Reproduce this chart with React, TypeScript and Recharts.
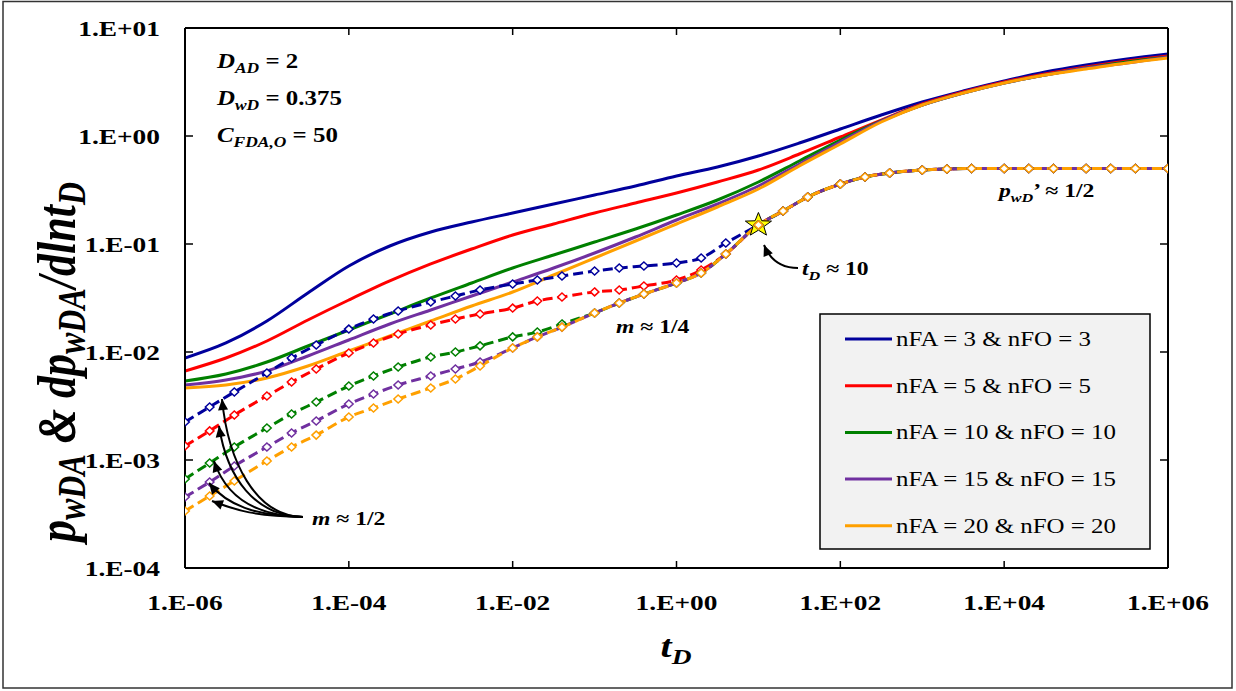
import React from 'react';
import { LineChart, Line, XAxis, YAxis, ReferenceDot, Legend } from 'recharts';

const SERIF = "'Liberation Serif', 'Times New Roman', Times, serif";
const SX = 1.245; // horizontal stretch of the original picture's text

const W = 1236;
const H = 691;
const PLOT_L = 185;
const PLOT_R = 1168;
const PLOT_T = 28;
const PLOT_B = 568;

// ---------- data ----------
const xTicks = [1e-6, 1e-4, 1e-2, 1e0, 1e2, 1e4, 1e6];
const yTicks = [1e-4, 1e-3, 1e-2, 1e-1, 1e0, 1e1];

const seriesNames = [
  'nFA = 3 & nFO = 3',
  'nFA = 5 & nFO = 5',
  'nFA = 10 & nFO = 10',
  'nFA = 15 & nFO = 15',
  'nFA = 20 & nFO = 20',
];
const seriesColors = ['#00009C', '#FF0000', '#008000', '#7030A0', '#FFA000'];

// pressure curves (solid), sampled every half decade
const tSolid = [
  1e-6, 3.16e-6, 1e-5, 3.16e-5, 1e-4, 3.16e-4, 1e-3, 3.16e-3, 1e-2, 3.16e-2, 1e-1, 3.16e-1, 1,
  3.16, 10, 31.6, 100, 316, 1e3, 3.16e3, 1e4, 3.16e4, 1e5, 3.16e5, 1e6,
];
const pwNf3 = [0.0088, 0.01212, 0.01937, 0.03518, 0.06256, 0.09583, 0.1292, 0.1599, 0.1936, 0.2346, 0.2842, 0.3444, 0.4263, 0.5164, 0.6528, 0.8614, 1.161, 1.564, 2.065, 2.61, 3.23, 3.913, 4.545, 5.164, 5.744];
const pwNf5 = [0.00667, 0.0088, 0.01264, 0.01978, 0.0303, 0.04545, 0.06532, 0.08991, 0.1212, 0.1532, 0.1936, 0.2397, 0.2966, 0.3751, 0.4843, 0.6813, 0.9789, 1.406, 1.978, 2.555, 3.162, 3.75, 4.354, 4.95, 5.505];
const pwNf10 = [0.00539, 0.00626, 0.00808, 0.01136, 0.01598, 0.02248, 0.03162, 0.04356, 0.05995, 0.0791, 0.1043, 0.1377, 0.1856, 0.2555, 0.3751, 0.5868, 0.9183, 1.377, 1.936, 2.501, 3.095, 3.671, 4.263, 4.843, 5.389];
const pwNf15 = [0.00495, 0.0055, 0.00667, 0.00918, 0.01292, 0.01817, 0.02448, 0.033, 0.04445, 0.05995, 0.08254, 0.1161, 0.1668, 0.2346, 0.3444, 0.5506, 0.8799, 1.377, 1.936, 2.501, 3.095, 3.671, 4.263, 4.741, 5.389];
const pwNf20 = [0.00464, 0.00495, 0.00575, 0.00742, 0.01022, 0.01406, 0.01937, 0.02666, 0.03594, 0.05164, 0.07421, 0.1066, 0.1532, 0.2201, 0.3231, 0.5275, 0.843, 1.348, 1.936, 2.501, 3.095, 3.671, 4.173, 4.741, 5.275];

// derivative curves (dashed with markers)
const tDeriv = [
  1e-6, 2e-6, 4e-6, 1e-5, 2e-5, 4e-5, 1e-4, 2e-4, 4e-4, 1e-3, 2e-3, 4e-3,
  1e-2, 2e-2, 4e-2, 1e-1, 2e-1, 4e-1, 1, 2, 4,
  10, 20, 40, 100, 200, 400, 1e3, 2e3, 4e3, 1e4, 2e4, 4e4, 1e5, 2e5, 4e5, 1e6,
];
// common late-time part (t = 10 ... 1e6), all cases coincide
const derivLate = [0.15, 0.202, 0.272, 0.359, 0.417, 0.454, 0.485, 0.495, 0.5, 0.5, 0.5, 0.5, 0.5, 0.5, 0.5, 0.5];
const dpNf3Early = [0.00225, 0.0031, 0.00426, 0.0064, 0.0088, 0.0116, 0.0163, 0.0202, 0.024, 0.029, 0.033, 0.0375, 0.0426, 0.0464, 0.0505, 0.0562, 0.06, 0.0626, 0.0667, 0.0742, 0.102];
const dpNf5Early = [0.00135, 0.00186, 0.00261, 0.00392, 0.00527, 0.00696, 0.0098, 0.0121, 0.0147, 0.0178, 0.0202, 0.0225, 0.0255, 0.0297, 0.0323, 0.036, 0.0375, 0.0409, 0.0464, 0.0574, 0.0808];
const dpNf10Early = [0.000667, 0.000938, 0.00132, 0.00198, 0.00267, 0.00344, 0.00484, 0.006, 0.00726, 0.009, 0.01, 0.0114, 0.0138, 0.0153, 0.0182, 0.023, 0.0284, 0.0344, 0.0435, 0.0539, 0.0808];
const dpNf15Early = [0.000454, 0.000625, 0.00088, 0.00132, 0.00178, 0.0023, 0.0033, 0.00408, 0.00495, 0.006, 0.00696, 0.00807, 0.0109, 0.0138, 0.017, 0.023, 0.0284, 0.0344, 0.0435, 0.0539, 0.0808];
const dpNf20Early = [0.000337, 0.000464, 0.00064, 0.00098, 0.00132, 0.0017, 0.0025, 0.00303, 0.00367, 0.00464, 0.00562, 0.00742, 0.0109, 0.0138, 0.017, 0.023, 0.0284, 0.0344, 0.0435, 0.0539, 0.0808];

const solidSeries = [pwNf3, pwNf5, pwNf10, pwNf15, pwNf20];
const derivSeries = [dpNf3Early, dpNf5Early, dpNf10Early, dpNf15Early, dpNf20Early].map((e) => [...e, ...derivLate]);

const solidData = tSolid.map((t, i) => {
  const row: Record<string, number> = { t };
  solidSeries.forEach((s, k) => (row[`s${k}`] = s[i]));
  return row;
});
const derivData = tDeriv.map((t, i) => {
  const row: Record<string, number> = { t };
  derivSeries.forEach((s, k) => (row[`d${k}`] = s[i]));
  return row;
});

// star marker: t_D ~ 10
const starPoint = { t: 10, v: 0.15 };

// ---------- helpers ----------
const fmtExp = (v: number) => {
  const e = Math.round(Math.log10(v));
  const s = e < 0 ? '-' : '+';
  return `1.E${s}${String(Math.abs(e)).padStart(2, '0')}`;
};

const BottomTick = (p: any) => (
  <g>
    <line x1={p.x} y1={PLOT_B} x2={p.x} y2={PLOT_B - 7} stroke="#000" strokeWidth={1.5} />
    <text
      transform={`translate(${p.x},${PLOT_B + 42}) scale(${SX},1)`}
      textAnchor="middle"
      fontFamily={SERIF}
      fontWeight="bold"
      fontSize={22}
      fill="#000"
    >
      {fmtExp(p.payload.value)}
    </text>
  </g>
);
const TopTick = (p: any) => (
  <line x1={p.x} y1={PLOT_T} x2={p.x} y2={PLOT_T + 7} stroke="#000" strokeWidth={1.5} />
);
const LeftTick = (p: any) => (
  <g>
    <line x1={PLOT_L} y1={p.y} x2={PLOT_L + 8} y2={p.y} stroke="#000" strokeWidth={1.5} />
    <text
      transform={`translate(${PLOT_L - 25},${p.y + 8}) scale(${SX},1)`}
      textAnchor="end"
      fontFamily={SERIF}
      fontWeight="bold"
      fontSize={22}
      fill="#000"
    >
      {fmtExp(p.payload.value)}
    </text>
  </g>
);
const RightTick = (p: any) => (
  <line x1={PLOT_R} y1={p.y} x2={PLOT_R - 8} y2={p.y} stroke="#000" strokeWidth={1.5} />
);

const diamondDot = (color: string) => (props: any) => {
  const { cx, cy, index } = props;
  if (cx == null || cy == null) return <g key={`e${index}`} />;
  const rx = 4.3;
  const ry = 4;
  return (
    <path
      key={`m${index}`}
      d={`M${cx},${cy - ry}L${cx + rx},${cy}L${cx},${cy + ry}L${cx - rx},${cy}Z`}
      fill="#fff"
      stroke={color}
      strokeWidth={1.5}
    />
  );
};

const StarShape = (props: any) => {
  const { cx, cy } = props;
  const R = 12.5;
  const r = 5.2;
  const pts: string[] = [];
  for (let i = 0; i < 10; i++) {
    const a = -Math.PI / 2 + (i * Math.PI) / 5;
    const rad = i % 2 === 0 ? R : r;
    pts.push(`${cx + rad * Math.cos(a) * 1.1},${cy + rad * Math.sin(a)}`);
  }
  return <polygon points={pts.join(' ')} fill="#FFFF00" stroke="#000" strokeWidth={1} />;
};

const LegendBox = () => (
  <svg width={332} height={237} style={{ display: 'block' }}>
    <rect x={1} y={1} width={330} height={235} fill="#F2F2F2" stroke="#000" strokeWidth={1.5} />
    {seriesNames.map((n, i) => {
      const cy = 26 + i * 46.7;
      return (
        <g key={n}>
          <line x1={26} y1={cy} x2={73} y2={cy} stroke={seriesColors[i]} strokeWidth={3} />
          <text
            transform={`translate(77,${cy + 7}) scale(${SX},1)`}
            fontFamily={SERIF}
            fontSize={20}
            fill="#000"
          >
            {n}
          </text>
        </g>
      );
    })}
  </svg>
);

// curved arrow with filled head
const Arrow = ({ d, tip, from }: { d: string; tip: [number, number]; from: [number, number] }) => {
  const dx = tip[0] - from[0];
  const dy = tip[1] - from[1];
  const len = Math.hypot(dx, dy);
  const ux = dx / len;
  const uy = dy / len;
  const L = 11;
  const hw = 5;
  const bx = tip[0] - ux * L;
  const by = tip[1] - uy * L;
  const head = `${tip[0]},${tip[1]} ${bx - uy * hw},${by + ux * hw} ${bx + uy * hw},${by - ux * hw}`;
  return (
    <g>
      <path d={d} fill="none" stroke="#000" strokeWidth={2} />
      <polygon points={head} fill="#000" />
    </g>
  );
};

const mTail: [number, number] = [303, 517];
const mTips: [number, number][] = [
  [222, 399],
  [219, 426],
  [214, 461],
  [209, 483],
  [212, 501],
];
const mCtrl: [number, number][] = [
  [6, 62],
  [8, 52],
  [12, 36],
  [18, 22],
  [26, 10],
];

const Bold = (props: any) => (
  <text
    transform={`translate(${props.x},${props.y}) scale(${SX},1)`}
    fontFamily={SERIF}
    fontWeight="bold"
    fontSize={props.size || 20}
    fill="#000"
  >
    {props.children}
  </text>
);

const Overlay = () => (
  <svg width={W} height={H} style={{ position: 'absolute', left: 0, top: 0, pointerEvents: 'none' }}>
    <rect x={3} y={1.5} width={1229} height={686.5} fill="none" stroke="#333" strokeWidth={1.5} />

    {/* parameters */}
    <Bold x={217} y={68}>
      <tspan fontStyle="italic">D</tspan>
      <tspan fontStyle="italic" fontSize={14} dy={5}>AD</tspan>
      <tspan dy={-5}> = 2</tspan>
    </Bold>
    <Bold x={217} y={105}>
      <tspan fontStyle="italic">D</tspan>
      <tspan fontStyle="italic" fontSize={14} dy={5}>wD</tspan>
      <tspan dy={-5}> = 0.375</tspan>
    </Bold>
    <Bold x={217} y={142}>
      <tspan fontStyle="italic">C</tspan>
      <tspan fontStyle="italic" fontSize={14} dy={5}>FDA,O</tspan>
      <tspan dy={-5}> = 50</tspan>
    </Bold>

    {/* annotations */}
    <Bold x={312} y={525} size={19}>
      <tspan fontStyle="italic">m</tspan>
      <tspan> ≈ 1/2</tspan>
    </Bold>
    <Bold x={616} y={333} size={19}>
      <tspan fontStyle="italic">m</tspan>
      <tspan> ≈ 1/4</tspan>
    </Bold>
    <Bold x={802} y={275} size={19}>
      <tspan fontStyle="italic">t</tspan>
      <tspan fontStyle="italic" fontSize={13} dy={5}>D</tspan>
      <tspan dy={-5}> ≈ 10</tspan>
    </Bold>
    <Bold x={999} y={197} size={19}>
      <tspan fontStyle="italic">p</tspan>
      <tspan fontStyle="italic" fontSize={13} dy={5}>wD</tspan>
      <tspan dy={-5}>’ ≈ 1/2</tspan>
    </Bold>

    {mTips.map((tip, i) => {
      const c2: [number, number] = [tip[0] + mCtrl[i][0], tip[1] + mCtrl[i][1]];
      const d = `M${mTail[0]},${mTail[1]} C255,516 ${c2[0]},${c2[1]} ${tip[0]},${tip[1]}`;
      return <Arrow key={i} d={d} tip={tip} from={c2} />;
    })}
    <Arrow d="M798,268 C784,268 771,262 764,245" tip={[764, 245]} from={[771, 262]} />

    {/* axis titles */}
    <text
      transform={`translate(75,362) scale(${SX},1) rotate(-90)`}
      textAnchor="middle"
      fontFamily={SERIF}
      fontWeight="bold"
      fontStyle="italic"
      fontSize={44}
      fill="#000"
    >
      <tspan>p</tspan>
      <tspan fontSize={32} dy={8}>wDA</tspan>
      <tspan dy={-8}> &amp; dp</tspan>
      <tspan fontSize={32} dy={8}>wDA</tspan>
      <tspan dy={-8}>/dlnt</tspan>
      <tspan fontSize={32} dy={8}>D</tspan>
    </text>
    <text
      transform={`translate(676,657) scale(${SX},1)`}
      textAnchor="middle"
      fontFamily={SERIF}
      fontWeight="bold"
      fontStyle="italic"
      fontSize={32}
      fill="#000"
    >
      <tspan>t</tspan>
      <tspan fontSize={22} dy={7}>D</tspan>
    </text>
  </svg>
);

export default function App() {
  return (
    <div style={{ position: 'absolute', left: 0, top: 0, width: W, height: H, background: '#fff' }}>
      <LineChart
        width={W}
        height={H}
        margin={{ top: PLOT_T - 1, right: W - PLOT_R - 1, bottom: H - PLOT_B - 1, left: PLOT_L - 1 }}
      >
        <XAxis
          dataKey="t"
          type="number"
          scale="log"
          domain={[1e-6, 1e6]}
          ticks={xTicks}
          interval={0}
          allowDataOverflow
          height={1}
          tickLine={false}
          tickSize={0}
          tickMargin={0}
          axisLine={{ stroke: '#000', strokeWidth: 2 }}
          tick={(p: any) => <BottomTick {...p} />}
        />
        <XAxis
          xAxisId="top"
          orientation="top"
          dataKey="t"
          type="number"
          scale="log"
          domain={[1e-6, 1e6]}
          ticks={xTicks}
          interval={0}
          allowDataOverflow
          height={1}
          tickLine={false}
          tickSize={0}
          tickMargin={0}
          axisLine={{ stroke: '#000', strokeWidth: 2 }}
          tick={(p: any) => <TopTick {...p} />}
        />
        <YAxis
          type="number"
          scale="log"
          domain={[1e-4, 10]}
          ticks={yTicks}
          interval={0}
          allowDataOverflow
          width={1}
          tickLine={false}
          tickSize={0}
          tickMargin={0}
          axisLine={{ stroke: '#000', strokeWidth: 2 }}
          tick={(p: any) => <LeftTick {...p} />}
        />
        <YAxis
          yAxisId="right"
          orientation="right"
          type="number"
          scale="log"
          domain={[1e-4, 10]}
          ticks={yTicks}
          interval={0}
          allowDataOverflow
          width={1}
          tickLine={false}
          tickSize={0}
          tickMargin={0}
          axisLine={{ stroke: '#000', strokeWidth: 2 }}
          tick={(p: any) => <RightTick {...p} />}
        />
        {solidSeries.map((_, k) => (
          <Line
            key={`s${k}`}
            data={solidData}
            dataKey={`s${k}`}
            name={seriesNames[k]}
            type="monotone"
            stroke={seriesColors[k]}
            strokeWidth={3}
            dot={false}
            activeDot={false}
            isAnimationActive={false}
          />
        ))}
        {derivSeries.map((_, k) => (
          <Line
            key={`d${k}`}
            data={derivData}
            dataKey={`d${k}`}
            name={`${seriesNames[k]} (derivative)`}
            type="monotone"
            stroke={seriesColors[k]}
            strokeWidth={3}
            strokeDasharray="10 5"
            dot={diamondDot(seriesColors[k])}
            activeDot={false}
            legendType="none"
            isAnimationActive={false}
          />
        ))}
        <ReferenceDot x={starPoint.t} y={starPoint.v} r={12} shape={(p: any) => <StarShape {...p} />} />
        <Legend
          layout="horizontal"
          verticalAlign="middle"
          align="center"
          wrapperStyle={{ position: 'absolute', left: 819, top: 313, width: 332, height: 237 }}
          content={() => <LegendBox />}
        />
      </LineChart>
      <Overlay />
    </div>
  );
}
